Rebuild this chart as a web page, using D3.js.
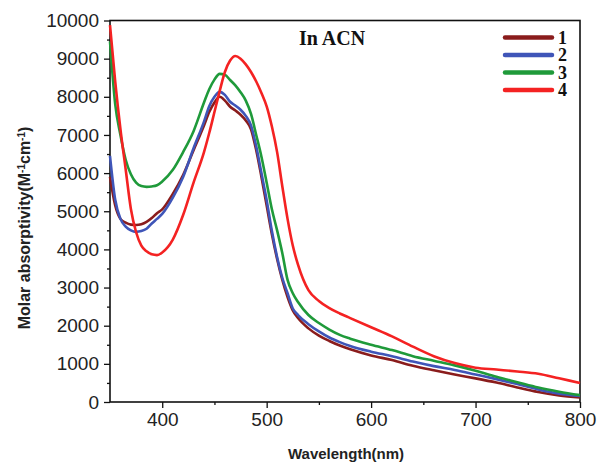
<!DOCTYPE html>
<html>
<head>
<meta charset="utf-8">
<script src="https://cdn.jsdelivr.net/npm/d3@7"></script>
<style>
  body { margin: 0; background: #fff; }
</style>
</head>
<body>
<svg width="598" height="464"></svg>
<script>
const svg = d3.select('svg');
const width = +svg.attr('width');
const height = +svg.attr('height');

// wavelength (nm)
const wavelengths = [350, 355, 360, 365, 370, 375, 380, 385, 390, 395, 400, 410, 420, 430, 440, 445,
  450, 455, 460, 465, 470, 475, 480, 485, 490, 495, 500, 505, 510, 515, 520, 525, 530, 540, 550,
  560, 570, 580, 600, 620, 640, 660, 680, 700, 720, 740, 760, 780, 800];

// molar absorptivity, one array per compound
const series1 = [5900, 5150, 4800, 4700, 4650, 4640, 4660, 4720, 4820, 4950, 5050, 5450, 5950, 6600, 7250, 7600,
  7850, 8000, 7900, 7740, 7640, 7530, 7380, 7150, 6600, 5900, 5150, 4400, 3750, 3200, 2750, 2400, 2200, 1930, 1740,
  1600, 1480, 1380, 1220, 1100, 950, 830, 720, 620, 510, 380, 260, 170, 120];
const series2 = [6450, 5300, 4800, 4600, 4500, 4460, 4480, 4540, 4680, 4800, 4930, 5350, 5900, 6650, 7350, 7750,
  8000, 8130, 8050, 7870, 7770, 7660, 7500, 7250, 6700, 6000, 5290, 4480, 3800, 3250, 2850, 2450, 2280, 2040, 1850,
  1690, 1570, 1470, 1320, 1200, 1060, 940, 840, 720, 600, 470, 330, 220, 160];
const series3 = [9450, 7800, 7000, 6350, 5970, 5750, 5660, 5640, 5650, 5680, 5780, 6080, 6550, 7100, 7850, 8200,
  8450, 8600, 8580, 8440, 8300, 8120, 7900, 7550, 7000, 6430, 5750, 5050, 4500, 3900, 3200, 2850, 2620, 2280, 2070,
  1900, 1760, 1660, 1500, 1360, 1200, 1080, 960, 820, 660, 520, 380, 270, 180];
const series4 = [9880, 8400, 7150, 6100, 5060, 4450, 4100, 3950, 3870, 3850, 3920, 4250, 4900, 5750, 6550, 7050,
  7600, 8150, 8650, 8950, 9070, 9000, 8850, 8650, 8400, 8100, 7750, 7220, 6550, 5650, 4800, 4100, 3600, 2930, 2650,
  2460, 2320, 2200, 1960, 1720, 1450, 1200, 1020, 900, 850, 800, 740, 620, 500];

const seriesNames = ['1', '2', '3', '4'];
const seriesColors = ['#8a1c1c', '#3f55b8', '#1f9a3a', '#f42222'];
const seriesValues = [series1, series2, series3, series4];

const xTicks = [400, 500, 600, 700, 800];
const yTicks = [0, 1000, 2000, 3000, 4000, 5000, 6000, 7000, 8000, 9000, 10000];

const sans = '"Liberation Sans", Arial, sans-serif';
const serif = '"Liberation Serif", "Times New Roman", serif';

const margin = {top: 20.5, right: 18, bottom: 62, left: 110};
const innerWidth = width - margin.left - margin.right;
const innerHeight = height - margin.top - margin.bottom;

const xScale = d3.scaleLinear().domain([350, 800]).range([0, innerWidth]);
const yScale = d3.scaleLinear().domain([0, 10000]).range([innerHeight, 0]);

const g = svg.append('g')
  .attr('transform', `translate(${margin.left}, ${margin.top})`);

// minor ticks
const yMinorAxis = d3.axisLeft(yScale).tickValues(d3.range(500, 10000, 1000)).tickSize(3).tickFormat('');
const xMinorAxis = d3.axisBottom(xScale).tickValues([450, 550, 650, 750]).tickSize(3).tickFormat('');
g.append('g').call(yMinorAxis).call(s => s.select('.domain').remove())
  .call(s => s.selectAll('text').remove())
  .selectAll('line').attr('stroke', '#111').attr('stroke-width', 1.3);
g.append('g').attr('transform', `translate(0, ${innerHeight})`).call(xMinorAxis)
  .call(s => s.select('.domain').remove())
  .call(s => s.selectAll('text').remove())
  .selectAll('line').attr('stroke', '#111').attr('stroke-width', 1.3);

const yAxis = d3.axisLeft(yScale).tickValues(yTicks).tickSize(6).tickPadding(5).tickFormat(d3.format('d'));
const xAxis = d3.axisBottom(xScale).tickValues(xTicks).tickSize(6).tickPadding(5);

const yAxisG = g.append('g').call(yAxis)
  .attr('font-family', sans).attr('font-size', 19);
yAxisG.select('.domain').remove();
yAxisG.selectAll('line').attr('stroke', '#111').attr('stroke-width', 1.3);
yAxisG.selectAll('text').attr('fill', '#222');

const xAxisG = g.append('g').attr('transform', `translate(0, ${innerHeight})`).call(xAxis)
  .attr('font-family', sans).attr('font-size', 19);
xAxisG.select('.domain').remove();
xAxisG.selectAll('line').attr('stroke', '#111').attr('stroke-width', 1.3);
xAxisG.selectAll('text').attr('fill', '#222');

// frame
g.append('rect')
  .attr('width', innerWidth)
  .attr('height', innerHeight)
  .attr('fill', 'none')
  .attr('stroke', '#111')
  .attr('stroke-width', 1.6);

// curves
const line = d3.line()
  .x((d, i) => xScale(wavelengths[i]))
  .y(d => yScale(d))
  .curve(d3.curveMonotoneX);

g.selectAll('path.curve').data(seriesValues)
  .enter().append('path')
  .attr('class', 'curve')
  .attr('d', line)
  .attr('fill', 'none')
  .attr('stroke', (d, i) => seriesColors[i])
  .attr('stroke-width', 2.6)
  .attr('stroke-linejoin', 'round');

// labels
svg.append('text')
  .attr('font-family', sans)
  .attr('font-weight', 'bold')
  .attr('font-size', 16)
  .attr('fill', '#222')
  .attr('transform', `translate(30, 228) rotate(-90)`)
  .attr('text-anchor', 'middle')
  .html('Molar absorptivity(M<tspan baseline-shift="super" font-size="10">-1</tspan>cm<tspan baseline-shift="super" font-size="10">-1</tspan>)');

svg.append('text')
  .attr('font-family', sans)
  .attr('font-weight', 'bold')
  .attr('font-size', 15)
  .attr('fill', '#222')
  .attr('x', 346)
  .attr('y', 459)
  .attr('text-anchor', 'middle')
  .text('Wavelength(nm)');

svg.append('text')
  .attr('font-family', serif)
  .attr('font-weight', 'bold')
  .attr('font-size', 20)
  .attr('fill', '#111')
  .attr('x', 299)
  .attr('y', 45)
  .text('In ACN');

// legend
const legend = svg.append('g');
const legendRows = legend.selectAll('g').data(seriesNames)
  .enter().append('g')
  .attr('transform', (d, i) => `translate(505, ${37.5 + i * 17.5})`);
legendRows.append('line')
  .attr('x1', 0).attr('x2', 47)
  .attr('stroke', (d, i) => seriesColors[i])
  .attr('stroke-width', 4.5)
  .attr('stroke-linecap', 'round');
legendRows.append('text')
  .attr('font-family', serif)
  .attr('font-weight', 'bold')
  .attr('font-size', 18)
  .attr('fill', '#111')
  .attr('x', 53)
  .attr('y', 6)
  .text(d => d);
</script>
</body>
</html>
